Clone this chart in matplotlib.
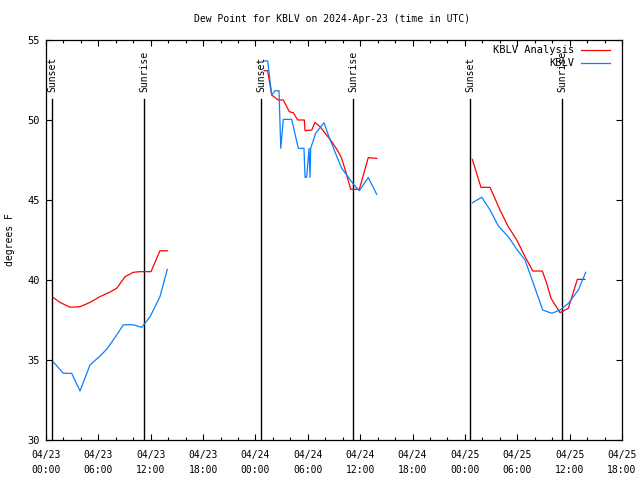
import matplotlib
matplotlib.use("Agg")
import matplotlib.pyplot as plt
from matplotlib.ticker import MultipleLocator

# hours since 2024-04-23 00:00 UTC
ana_t1 = [0.84, 1.60, 2.75, 3.90, 5.04, 6.19, 7.33, 8.10, 9.05, 10.0, 10.77, 12.03, 13.06, 13.9]
ana_v1 = [38.9, 38.6, 38.3, 38.33, 38.6, 38.96, 39.25, 39.48, 40.2, 40.48, 40.52, 40.52, 41.83, 41.83]
obs_t1 = [0.84, 1.98, 2.94, 3.90, 5.04, 6.19, 6.95, 7.9, 8.86, 10.0, 10.97, 11.92, 13.06, 13.9]
obs_v1 = [34.88, 34.17, 34.17, 33.06, 34.69, 35.25, 35.67, 36.4, 37.2, 37.2, 37.04, 37.7, 38.96, 40.67]

ana_t2 = [25.01, 25.4, 25.86, 26.62, 27.19, 27.88, 28.34, 28.84, 29.6, 29.68, 30.45, 30.82, 31.4,
          32.74, 33.49, 33.88, 34.46, 34.91, 35.9, 36.93, 37.9]
ana_v2 = [53.08, 53.08, 51.56, 51.25, 51.25, 50.52, 50.45, 50.0, 50.0, 49.33, 49.375, 49.85, 49.58,
          48.65, 48.02, 47.6, 46.56, 45.67, 45.67, 47.65, 47.6]
obs_t2 = [24.9, 25.4, 25.86, 26.24, 26.7, 26.9, 27.19, 28.15, 28.91, 29.56, 29.68, 29.87, 30.14,
          30.25, 30.33, 30.9, 31.86, 32.35, 33.1, 33.88, 34.46, 35.21, 35.9, 36.93, 37.9]
obs_v2 = [53.69, 53.69, 51.56, 51.83, 51.83, 48.23, 50.04, 50.04, 48.23, 48.23, 46.42, 46.42, 48.23,
          46.42, 48.23, 49.17, 49.83, 49.06, 48.02, 46.98, 46.56, 46.0, 45.58, 46.4, 45.35]

ana_t3 = [48.85, 49.84, 50.88, 52.02, 52.97, 53.94, 54.89, 55.77, 56.87, 57.37, 57.87, 58.9, 59.85, 60.88, 61.76]
ana_v3 = [47.54, 45.79, 45.79, 44.375, 43.33, 42.5, 41.46, 40.56, 40.56, 39.79, 38.85, 37.96, 38.23, 40.04, 40.04]
obs_t3 = [48.85, 49.93, 50.88, 51.83, 52.97, 53.94, 54.89, 55.84, 56.91, 57.95, 58.9, 59.85, 61.0, 61.84]
obs_v3 = [44.83, 45.17, 44.375, 43.375, 42.71, 41.92, 41.25, 39.79, 38.125, 37.92, 38.125, 38.54, 39.375, 40.48]

sun_times = [0.68, 11.23, 24.68, 35.21, 48.58, 59.16]
sun_labels = ["Sunset", "Sunrise", "Sunset", "Sunrise", "Sunset", "Sunrise"]

tick_labels = ["04/23\n00:00", "04/23\n06:00", "04/23\n12:00", "04/23\n18:00",
               "04/24\n00:00", "04/24\n06:00", "04/24\n12:00", "04/24\n18:00",
               "04/25\n00:00", "04/25\n06:00", "04/25\n12:00", "04/25\n18:00"]
series_names = ["KBLV Analysis", "KBLV"]

RED = "#ff0000"
BLUE = "#0a80ff"
FONT = "DejaVu Sans Mono"
FS = 7

plt.rcParams['font.family'] = FONT
fig = plt.figure(figsize=(6.4, 4.8), dpi=100)
ax = fig.add_axes([46/640, 1-440/480, 576/640, 400/480])

lw = 0.9
for t, v in [(ana_t1, ana_v1), (ana_t2, ana_v2), (ana_t3, ana_v3)]:
    ax.plot(t, v, color=RED, lw=lw, zorder=3)
for t, v in [(obs_t1, obs_v1), (obs_t2, obs_v2), (obs_t3, obs_v3)]:
    ax.plot(t, v, color=BLUE, lw=lw, zorder=3)

for st, sl in zip(sun_times, sun_labels):
    ax.plot([st, st], [30, 51.3], color="black", lw=1.0, zorder=2)
    ax.text(st, 51.75, sl, rotation=90, ha="center", va="bottom", fontsize=FS, family=FONT)

ax.set_xlim(0, 66)
ax.set_ylim(30, 55)
ax.set_xticks(range(0, 67, 6))
ax.set_xticklabels(tick_labels, fontsize=FS, linespacing=1.6)
ax.xaxis.set_minor_locator(MultipleLocator(2))
ax.set_yticks(range(30, 56, 5))
ax.tick_params(axis="y", labelsize=FS + 0.5, pad=4.5)
ax.tick_params(axis="x", pad=7)
ax.tick_params(which="major", direction="in", length=4, width=0.8, top=True, right=True)
ax.tick_params(which="minor", direction="in", length=2.2, width=0.8, top=True, right=True)
for s in ax.spines.values():
    s.set_linewidth(0.9)

ax.set_ylabel("degrees F", fontsize=FS, labelpad=9)
fig.text(332/640, 1-19/480, "Dew Point for KBLV on 2024-Apr-23 (time in UTC)",
         ha="center", va="center", fontsize=FS)

# legend (gnuplot style)
for i, (name, col) in enumerate(zip(series_names, [RED, BLUE])):
    yf = 0.9755 - i * 0.033
    ax.text(0.9167, yf, name, transform=ax.transAxes, ha="right", va="center", fontsize=FS + 0.5)
    ax.plot([0.9288, 0.9792], [yf, yf], transform=ax.transAxes, color=col, lw=lw, clip_on=False)

fig.savefig("out.png", dpi=100)
